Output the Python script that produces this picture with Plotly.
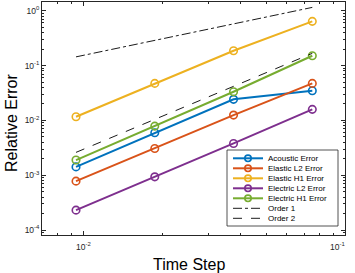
import math
import plotly.graph_objects as go

time_step = [0.009375, 0.01875, 0.0375, 0.075]
acoustic = [0.00142, 0.00594, 0.0242, 0.0347]
elastic_l2 = [0.00078, 0.00308, 0.0125, 0.0473]
elastic_h1 = [0.01164, 0.0473, 0.186, 0.64]
electric_l2 = [0.000231, 0.000935, 0.0038, 0.0159]
electric_h1 = [0.00189, 0.00787, 0.0333, 0.151]
order1 = [0.144, 0.288, 0.576, 1.15]
order2 = [0.00261, 0.0104, 0.0418, 0.167]

series_names = ["Acoustic Error", "Elastic L2 Error", "Elastic H1 Error",
                "Electric L2 Error", "Electric H1 Error"]
series_vals = [acoustic, elastic_l2, elastic_h1, electric_l2, electric_h1]
colors = ["#0072BD", "#D95319", "#EDB120", "#7E2F8E", "#77AC30"]

x_ticks = [0.01, 0.1]
x_ticktext = ["10<sup>-2</sup>", "10<sup>-1</sup>"]
y_ticks = [1e-4, 1e-3, 1e-2, 1e-1, 1]
y_ticktext = ["10<sup>-4</sup>", "10<sup>-3</sup>", "10<sup>-2</sup>", "10<sup>-1</sup>", "10<sup>0</sup>"]
x_title = "Time Step"
y_title = "Relative Error"

FONT = "Liberation Sans, Arial, Helvetica, sans-serif"
AX = "#262626"

fig = go.Figure()
for name, vals, c in zip(series_names, series_vals, colors):
    fig.add_trace(go.Scatter(x=time_step, y=vals, mode="lines+markers", name=name,
                             line=dict(color=c, width=2),
                             marker=dict(symbol="circle-open", size=7.5, color=c, line=dict(width=1.6, color=c)),
                             showlegend=False))
fig.add_trace(go.Scatter(x=time_step, y=order1, mode="lines", name="Order 1",
                         line=dict(color="black", width=0.9, dash="dashdot"), showlegend=False))
fig.add_trace(go.Scatter(x=time_step, y=order2, mode="lines", name="Order 2",
                         line=dict(color="black", width=0.9, dash="dash"), showlegend=False))

# plot area pixel geometry
L, R, T, B = 42, 345, 2, 235
W, H = R - L, B - T
def px(xp):
    return (xp - L) / W
def py(yp):
    return (B - yp) / H

minor_x = [k * 10.0 ** e for e in (-3, -2) for k in range(2, 10)]
minor_y = [k * 10.0 ** e for e in (-5, -4, -3, -2, -1, 0) for k in range(2, 10)]

common = dict(type="log", tickmode="array", ticks="inside", ticklen=4, tickwidth=0.6, tickcolor=AX,
              showline=True, linecolor=AX, linewidth=0.8, mirror="allticks",
              showgrid=False, zeroline=False, tickfont=dict(family=FONT, size=8.5, color=AX))
fig.update_xaxes(range=[-2.158, -1.0], tickvals=x_ticks, ticktext=x_ticktext, showticklabels=False,
                 minor=dict(tickmode="array", tickvals=minor_x, ticks="inside", ticklen=2,
                            tickwidth=0.6, tickcolor=AX, showgrid=False), **common)
fig.update_yaxes(range=[-4.09, 0.159], tickvals=y_ticks, ticktext=y_ticktext,
                 minor=dict(tickmode="array", tickvals=minor_y, ticks="inside", ticklen=2,
                            tickwidth=0.6, tickcolor=AX, showgrid=False), **common)

shapes = [dict(type="rect", xref="paper", yref="paper", x0=px(227), x1=px(338), y0=py(150), y1=py(226),
               fillcolor="white", line=dict(color="#262626", width=0.8), layer="above")]
annotations = [
    dict(text=x_title, xref="paper", yref="paper", x=px(189), y=py(264), xanchor="center", yanchor="middle",
         showarrow=False, font=dict(family=FONT, size=16, color="#000")),
    dict(text=y_title, xref="paper", yref="paper", x=px(11), y=py(123), xanchor="center", yanchor="middle",
         textangle=-90, showarrow=False, font=dict(family=FONT, size=16, color="#000")),
]
# x tick labels (last one nudged inward, as in the reference)
x_label_shift = [0, -8]
for v, t, s in zip(x_ticks, x_ticktext, x_label_shift):
    annotations.append(dict(text=t, xref="x", yref="paper", x=math.log10(v), y=py(246), xanchor="center",
                            yanchor="middle", xshift=s, showarrow=False,
                            font=dict(family=FONT, size=8.5, color=AX)))
# custom legend (plotly's own legend rows are too tall for this size)
leg_names = series_names + ["Order 1", "Order 2"]
leg_styles = [(c, 2, "solid", True) for c in colors] + [("black", 0.9, "dashdot", False), ("black", 0.9, "dash", False)]
for i, (nm, (c, w, d, mk)) in enumerate(zip(leg_names, leg_styles)):
    yy = 158.3 + 10 * i
    shapes.append(dict(type="line", xref="paper", yref="paper", x0=px(233), x1=px(263), y0=py(yy), y1=py(yy),
                       line=dict(color=c, width=w, dash=d), layer="above"))
    if mk:
        shapes.append(dict(type="circle", xref="paper", yref="paper", xsizemode="pixel", ysizemode="pixel",
                           xanchor=px(248), yanchor=py(yy), x0=-3.2, x1=3.2, y0=-3.2, y1=3.2,
                           line=dict(color=c, width=1.6), layer="above"))
    annotations.append(dict(text=nm, xref="paper", yref="paper", x=px(265.5), y=py(yy), xanchor="left",
                            yanchor="middle", showarrow=False, font=dict(family=FONT, size=8, color="#000")))

fig.update_layout(width=355, height=273, margin=dict(l=L, r=355 - R, t=T, b=273 - B),
                  paper_bgcolor="white", plot_bgcolor="white", showlegend=False,
                  shapes=shapes, annotations=annotations)
fig.write_html("out.html", config={"displayModeBar": False},
               post_script="document.body.style.margin='0';")
